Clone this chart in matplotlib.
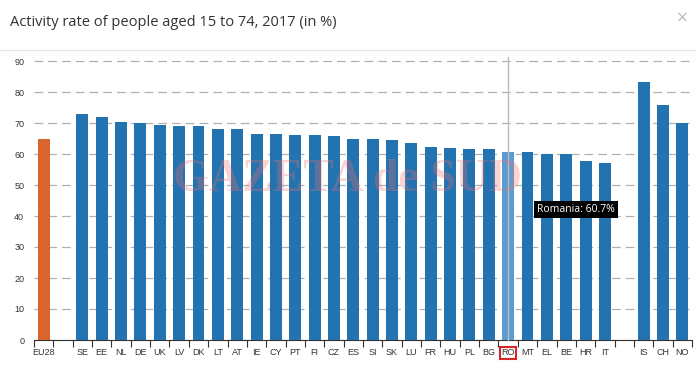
import numpy as np
import matplotlib.pyplot as plt

# categories in chart order; "" marks the empty slots between groups
countries = ["EU28", "", "SE", "EE", "NL", "DE", "UK", "LV", "DK", "LT", "AT",
             "IE", "CY", "PT", "FI", "CZ", "ES", "SI", "SK", "LU", "FR", "HU",
             "PL", "BG", "RO", "MT", "EL", "BE", "HR", "IT", "", "IS", "CH", "NO"]
rates = [64.9, None, 73.0, 71.9, 70.3, 69.9, 69.4, 69.1, 69.1, 68.1, 68.1,
         66.5, 66.5, 66.1, 66.1, 65.8, 64.8, 64.8, 64.5, 63.6, 62.4, 62.0,
         61.7, 61.7, 60.7, 60.7, 59.9, 59.9, 57.8, 57.2, None, 83.2, 75.8, 69.9]
y_ticks = [0, 10, 20, 30, 40, 50, 60, 70, 80, 90]

BLUE = "#2273b0"
ORANGE = "#d9642c"
HIGHLIGHT = "#5c9bcf"

fig = plt.figure(figsize=(6.96, 3.65), dpi=100)
ax = fig.add_axes([34 / 696, 25 / 365, 658 / 696, 279 / 365])

x = np.arange(len(countries))
for i, (c, v) in enumerate(zip(countries, rates)):
    if v is None:
        continue
    color = BLUE
    if c == "EU28":
        color = ORANGE
    elif c == "RO":
        color = HIGHLIGHT
    ax.bar(i, v, width=0.62, color=color, zorder=3)

ax.set_xlim(-0.5, len(countries) - 0.5)
ax.set_ylim(0, 90)

# dashed grid
ax.set_yticks(y_ticks)
ax.yaxis.grid(True, linestyle=(0, (7, 4)), color="#b0b0b0", linewidth=0.9, zorder=0)
ax.tick_params(axis="y", length=0, labelsize=6.5, labelcolor="#333333", pad=7)
for lbl in ax.get_yticklabels():
    lbl.set_fontfamily("Liberation Sans")
ax.get_ygridlines()[-1].set_clip_on(False)

# x labels at slot centres, tick marks at slot boundaries
ax.set_xticks(x)
ax.set_xticklabels(countries, fontsize=6.5, color="#333333", family="Liberation Sans")
ax.tick_params(axis="x", which="major", length=0, pad=6)
ax.set_xticks(np.arange(len(countries) + 1) - 0.5, minor=True)
ax.tick_params(axis="x", which="minor", length=5, width=0.8, color="#333333")

for side in ["top", "right", "left"]:
    ax.spines[side].set_visible(False)
ax.spines["bottom"].set_color("#333333")
ax.spines["bottom"].set_linewidth(0.8)

# red frame round the RO label
ro = countries.index("RO")
ax.get_xticklabels()[ro].set_bbox(dict(facecolor="none", edgecolor="#d62728",
                                       linewidth=1.5, pad=1.2))

# hover line and tooltip
ax.axvline(ro, ymin=0, ymax=1.015, color="#bbbbbb", linewidth=1, zorder=4, clip_on=False)
ax.text(27.5, 42.1, "Romania: %.1f%%" % rates[ro], color="white", fontsize=7.5,
        family="Open Sans", ha="center", va="center", zorder=6,
        bbox=dict(facecolor="black", edgecolor="none", pad=2.5))

# watermark
ax.text(15.7, 51.6, "GAZETA de SUD", fontsize=33, weight="bold", family="Liberation Serif",
        color="#f07070", alpha=0.3, ha="center", va="center", zorder=5)

# header
fig.text(10 / 696, 1 - 22 / 365, "Activity rate of people aged 15 to 74, 2017 (in %)",
         fontsize=10.5, color="#333333", family="Open Sans", va="center")
fig.text(676 / 696, 1 - 18 / 365, "\u00d7", fontsize=11, color="#bbbbbb", va="center")
fig.add_artist(plt.Line2D([0, 1], [1 - 50 / 365] * 2, color="#e6e6e6", linewidth=1))

fig.savefig("out.png", dpi=100)
